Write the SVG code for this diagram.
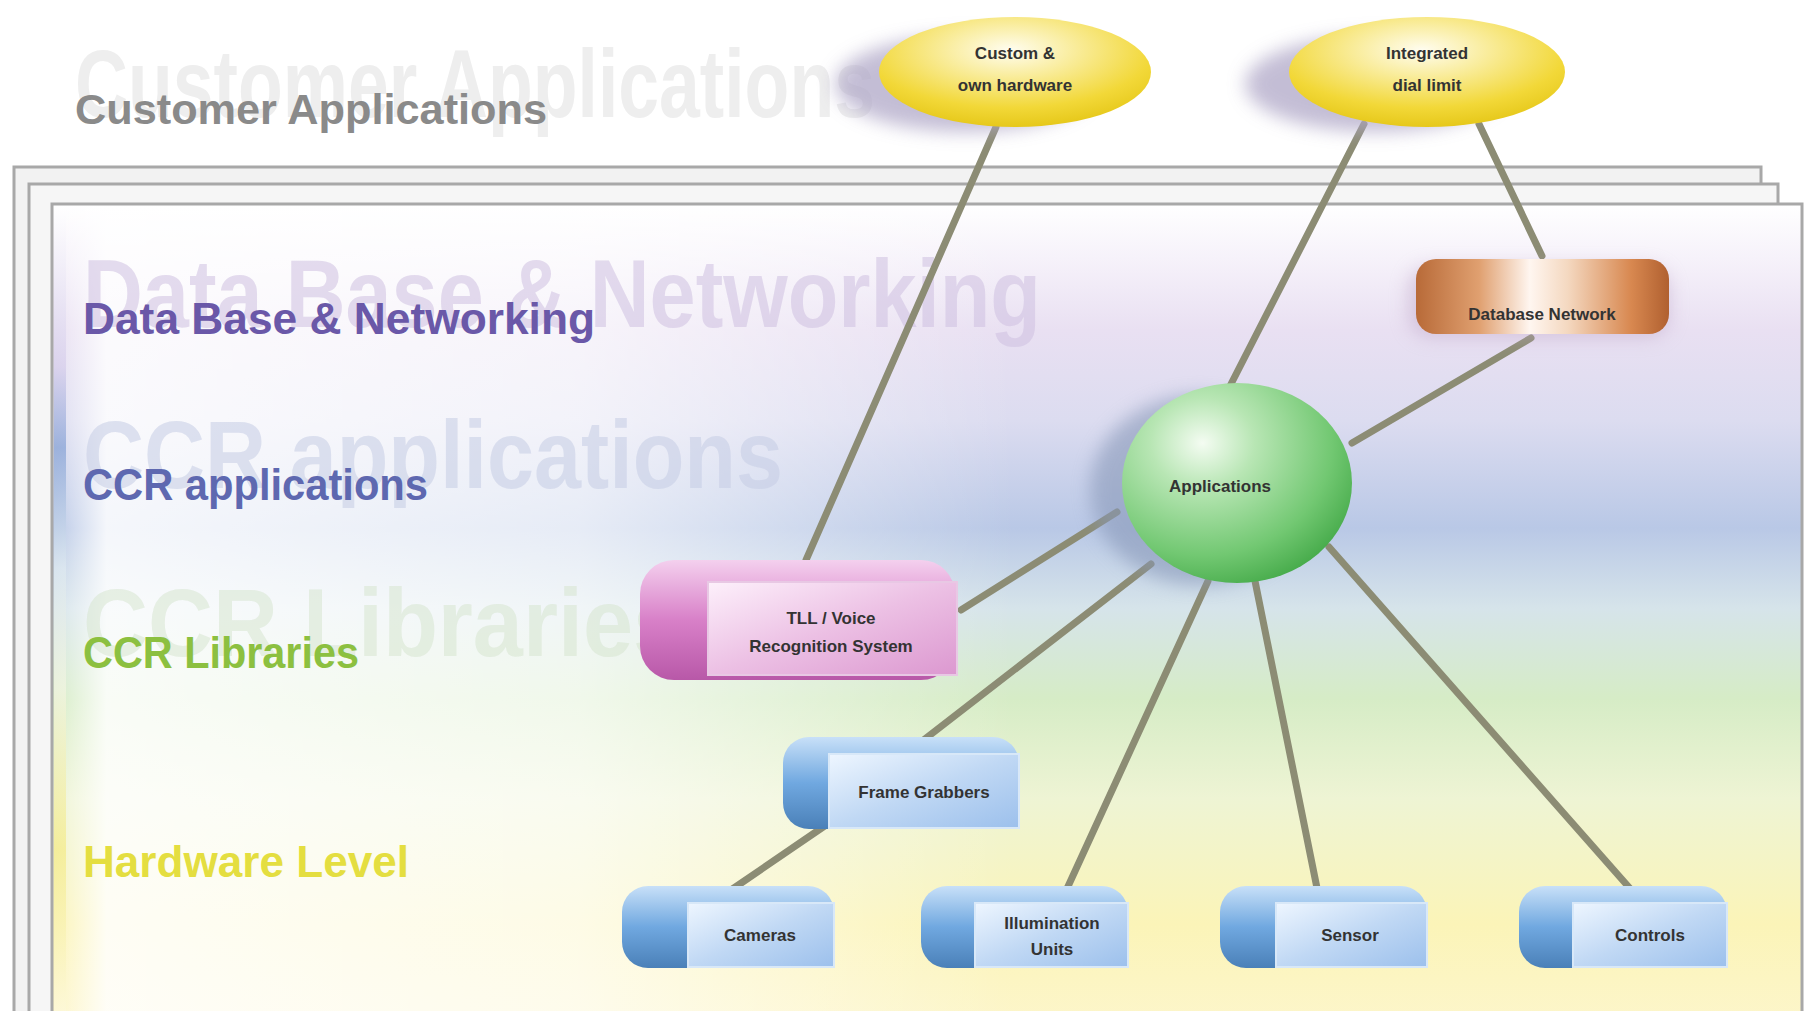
<svg xmlns="http://www.w3.org/2000/svg" width="1805" height="1011" viewBox="0 0 1805 1011">
<defs>
<linearGradient id="pageBg" x1="0" y1="0" x2="0" y2="1">
<stop offset="0" stop-color="#ffffff"/>
<stop offset="0.06" stop-color="#f6f2fa"/>
<stop offset="0.14" stop-color="#e9e0f2"/>
<stop offset="0.24" stop-color="#dcdcf0"/>
<stop offset="0.36" stop-color="#b9c8e6"/>
<stop offset="0.45" stop-color="#d6e4ea"/>
<stop offset="0.55" stop-color="#d6ecc6"/>
<stop offset="0.66" stop-color="#eef4d4"/>
<stop offset="0.8" stop-color="#fbf4b8"/>
<stop offset="0.92" stop-color="#fdf6cc"/>
<stop offset="1" stop-color="#fffbe8"/>
</linearGradient>
<linearGradient id="edgeG" x1="0" y1="0" x2="0" y2="1">
<stop offset="0" stop-color="#ffffff"/>
<stop offset="0.2" stop-color="#d8d0ec"/>
<stop offset="0.3" stop-color="#8ea8d8"/>
<stop offset="0.45" stop-color="#dde8f0"/>
<stop offset="0.6" stop-color="#f0f4e0"/>
<stop offset="0.8" stop-color="#f4ec90"/>
<stop offset="1" stop-color="#fdf8d8"/>
</linearGradient>
<linearGradient id="whiteFade" x1="0" y1="0" x2="1" y2="0">
<stop offset="0" stop-color="#ffffff" stop-opacity="0"/>
<stop offset="0.03" stop-color="#ffffff" stop-opacity="0.85"/>
<stop offset="0.3" stop-color="#ffffff" stop-opacity="0.65"/>
<stop offset="0.55" stop-color="#ffffff" stop-opacity="0"/>
</linearGradient>
<radialGradient id="yellowG" cx="0.48" cy="0.3" r="0.7">
<stop offset="0" stop-color="#fffdf0"/>
<stop offset="0.35" stop-color="#f9ec9a"/>
<stop offset="0.75" stop-color="#f2d838"/>
<stop offset="1" stop-color="#e6c81a"/>
</radialGradient>
<radialGradient id="greenG" cx="0.35" cy="0.3" r="0.75">
<stop offset="0" stop-color="#f4fcf2"/>
<stop offset="0.3" stop-color="#b8e6b4"/>
<stop offset="0.75" stop-color="#72c872"/>
<stop offset="1" stop-color="#48ac4c"/>
</radialGradient>
<linearGradient id="orangeG" x1="0" y1="0" x2="1" y2="0">
<stop offset="0" stop-color="#b86a38"/>
<stop offset="0.25" stop-color="#e0a070"/>
<stop offset="0.45" stop-color="#fff6f0"/>
<stop offset="0.6" stop-color="#f4d8c0"/>
<stop offset="0.85" stop-color="#d88850"/>
<stop offset="1" stop-color="#b06030"/>
</linearGradient>
<linearGradient id="pinkSide" x1="0" y1="0" x2="0" y2="1">
<stop offset="0" stop-color="#f4d0ee"/>
<stop offset="0.5" stop-color="#d880c8"/>
<stop offset="1" stop-color="#b858a8"/>
</linearGradient>
<linearGradient id="pinkFront" x1="0" y1="0" x2="1" y2="1">
<stop offset="0" stop-color="#fdf0fb"/>
<stop offset="0.5" stop-color="#ecc0e4"/>
<stop offset="1" stop-color="#dc98d0"/>
</linearGradient>
<linearGradient id="blueSide" x1="0" y1="0" x2="0" y2="1">
<stop offset="0" stop-color="#c8e0f8"/>
<stop offset="0.5" stop-color="#70a8e0"/>
<stop offset="1" stop-color="#4a80b8"/>
</linearGradient>
<linearGradient id="blueFront" x1="0" y1="0" x2="1" y2="1">
<stop offset="0" stop-color="#eef6ff"/>
<stop offset="0.5" stop-color="#c0d8f4"/>
<stop offset="1" stop-color="#9cc0ec"/>
</linearGradient>
<filter id="blur" x="-30%" y="-30%" width="160%" height="160%"><feGaussianBlur stdDeviation="9"/></filter>
</defs>
<style>
.lbl{font-family:"Liberation Sans","DejaVu Sans",sans-serif;font-weight:bold;}
.ghost{font-family:"Liberation Sans","DejaVu Sans",sans-serif;font-weight:bold;}
.nt{font-family:"Liberation Sans","DejaVu Sans",sans-serif;font-weight:bold;font-size:17px;fill:#333333;text-anchor:middle;}
.conn{stroke:#8c8c74;stroke-width:7;stroke-linecap:round;fill:none;}
.page{stroke:#a8a8a8;stroke-width:3;}
</style>

<g id="pages">
<rect class="page" x="14" y="167" width="1747" height="900" fill="#f2f2f2"/>
<rect class="page" x="29" y="184" width="1749" height="900" fill="#f6f6f6"/>
<rect class="page" x="52" y="204" width="1750" height="900" fill="url(#pageBg)"/>
<rect x="54" y="206" width="1748" height="805" fill="url(#whiteFade)"/>
<rect x="54" y="206" width="12" height="805" fill="url(#edgeG)" opacity="0.8"/>
</g>

<g id="ghosts">
<text class="ghost" x="75" y="117" font-size="96" fill="#eeeeee" textLength="800" lengthAdjust="spacingAndGlyphs">Customer Applications</text>
<text class="ghost" x="83" y="327" font-size="96" fill="#cdbfe0" fill-opacity="0.55" textLength="958" lengthAdjust="spacingAndGlyphs">Data Base &amp; Networking</text>
<text class="ghost" x="83" y="488" font-size="96" fill="#c4cce4" fill-opacity="0.55" textLength="700" lengthAdjust="spacingAndGlyphs">CCR applications</text>
<text class="ghost" x="83" y="656" font-size="96" fill="#d4e4cc" fill-opacity="0.5" textLength="600" lengthAdjust="spacingAndGlyphs">CCR Libraries</text>
</g>

<g id="labels">
<text class="lbl" x="75" y="124" font-size="42" fill="#8a8a8a" textLength="472" lengthAdjust="spacingAndGlyphs">Customer Applications</text>
<text class="lbl" x="83" y="334" font-size="44" fill="#6a58a8" textLength="512" lengthAdjust="spacingAndGlyphs">Data Base &amp; Networking</text>
<text class="lbl" x="83" y="500" font-size="44" fill="#5e68b0" textLength="345" lengthAdjust="spacingAndGlyphs">CCR applications</text>
<text class="lbl" x="83" y="668" font-size="44" fill="#8cc040" textLength="276" lengthAdjust="spacingAndGlyphs">CCR Libraries</text>
<text class="lbl" x="83" y="877" font-size="44" fill="#e4de40" textLength="326" lengthAdjust="spacingAndGlyphs">Hardware Level</text>
</g>

<g id="connectors">
<line class="conn" x1="996" y1="127" x2="806" y2="560"/>
<line class="conn" x1="1364" y1="124" x2="1229" y2="388"/>
<line class="conn" x1="1479" y1="124" x2="1542" y2="256"/>
<line class="conn" x1="1531" y1="338" x2="1352" y2="443"/>
<line class="conn" x1="1117" y1="512" x2="961" y2="610"/>
<line class="conn" x1="1151" y1="564" x2="921" y2="742"/>
<line class="conn" x1="829" y1="823" x2="731" y2="890"/>
<line class="conn" x1="1208" y1="581" x2="1065" y2="893"/>
<line class="conn" x1="1255" y1="581" x2="1318" y2="893"/>
<line class="conn" x1="1329" y1="547" x2="1634" y2="893"/>
</g>

<g id="node-custom-hw">
<ellipse cx="965" cy="84" rx="130" ry="48" fill="#b0a8c8" opacity="0.75" filter="url(#blur)"/>
<ellipse cx="1015" cy="72" rx="136" ry="55" fill="url(#yellowG)"/>
<text class="nt" x="1015" y="59">Custom &amp;</text>
<text class="nt" x="1015" y="91">own hardware</text>
</g>
<g id="node-integrated">
<ellipse cx="1375" cy="84" rx="130" ry="48" fill="#b0a8c8" opacity="0.75" filter="url(#blur)"/>
<ellipse cx="1427" cy="72" rx="138" ry="55" fill="url(#yellowG)"/>
<text class="nt" x="1427" y="59">Integrated</text>
<text class="nt" x="1427" y="91">dial limit</text>
</g>
<g id="node-database">
<rect x="1408" y="266" width="262" height="72" rx="22" fill="#c0a8c8" opacity="0.5" filter="url(#blur)"/>
<rect x="1416" y="259" width="253" height="75" rx="20" fill="url(#orangeG)"/>
<text class="nt" x="1542" y="320" font-size="15">Database Network</text>
</g>
<g id="node-applications">
<ellipse cx="1200" cy="490" rx="110" ry="95" fill="#8898b8" opacity="0.6" filter="url(#blur)"/>
<ellipse cx="1237" cy="483" rx="115" ry="100" fill="url(#greenG)"/>
<text class="nt" x="1220" y="492">Applications</text>
</g>
<g id="node-voice">
<rect x="640" y="560" width="315" height="120" rx="34" fill="url(#pinkSide)"/>
<rect x="708" y="582" width="249" height="93" fill="url(#pinkFront)" stroke="#e8c8e4" stroke-width="2"/>
<text class="nt" x="831" y="624">TLL / Voice</text>
<text class="nt" x="831" y="652">Recognition System</text>
</g>
<g id="node-frame-grabbers">
<rect x="783" y="737" width="236" height="92" rx="26" fill="url(#blueSide)"/>
<rect x="829" y="754" width="190" height="74" fill="url(#blueFront)" stroke="#d8e8f8" stroke-width="2"/>
<text class="nt" x="924" y="798">Frame Grabbers</text>
</g>
<g id="node-camera">
<rect x="622" y="886" width="212" height="82" rx="26" fill="url(#blueSide)"/>
<rect x="688" y="903" width="146" height="64" fill="url(#blueFront)" stroke="#d8e8f8" stroke-width="2"/>
<text class="nt" x="760" y="941">Cameras</text>
</g>
<g id="node-illumination">
<rect x="921" y="886" width="207" height="82" rx="26" fill="url(#blueSide)"/>
<rect x="975" y="903" width="153" height="64" fill="url(#blueFront)" stroke="#d8e8f8" stroke-width="2"/>
<text class="nt" x="1052" y="929">Illumination</text>
<text class="nt" x="1052" y="955">Units</text>
</g>
<g id="node-sensor">
<rect x="1220" y="886" width="207" height="82" rx="26" fill="url(#blueSide)"/>
<rect x="1276" y="903" width="151" height="64" fill="url(#blueFront)" stroke="#d8e8f8" stroke-width="2"/>
<text class="nt" x="1350" y="941">Sensor</text>
</g>
<g id="node-controls">
<rect x="1519" y="886" width="208" height="82" rx="26" fill="url(#blueSide)"/>
<rect x="1573" y="903" width="154" height="64" fill="url(#blueFront)" stroke="#d8e8f8" stroke-width="2"/>
<text class="nt" x="1650" y="941">Controls</text>
</g>
</svg>
